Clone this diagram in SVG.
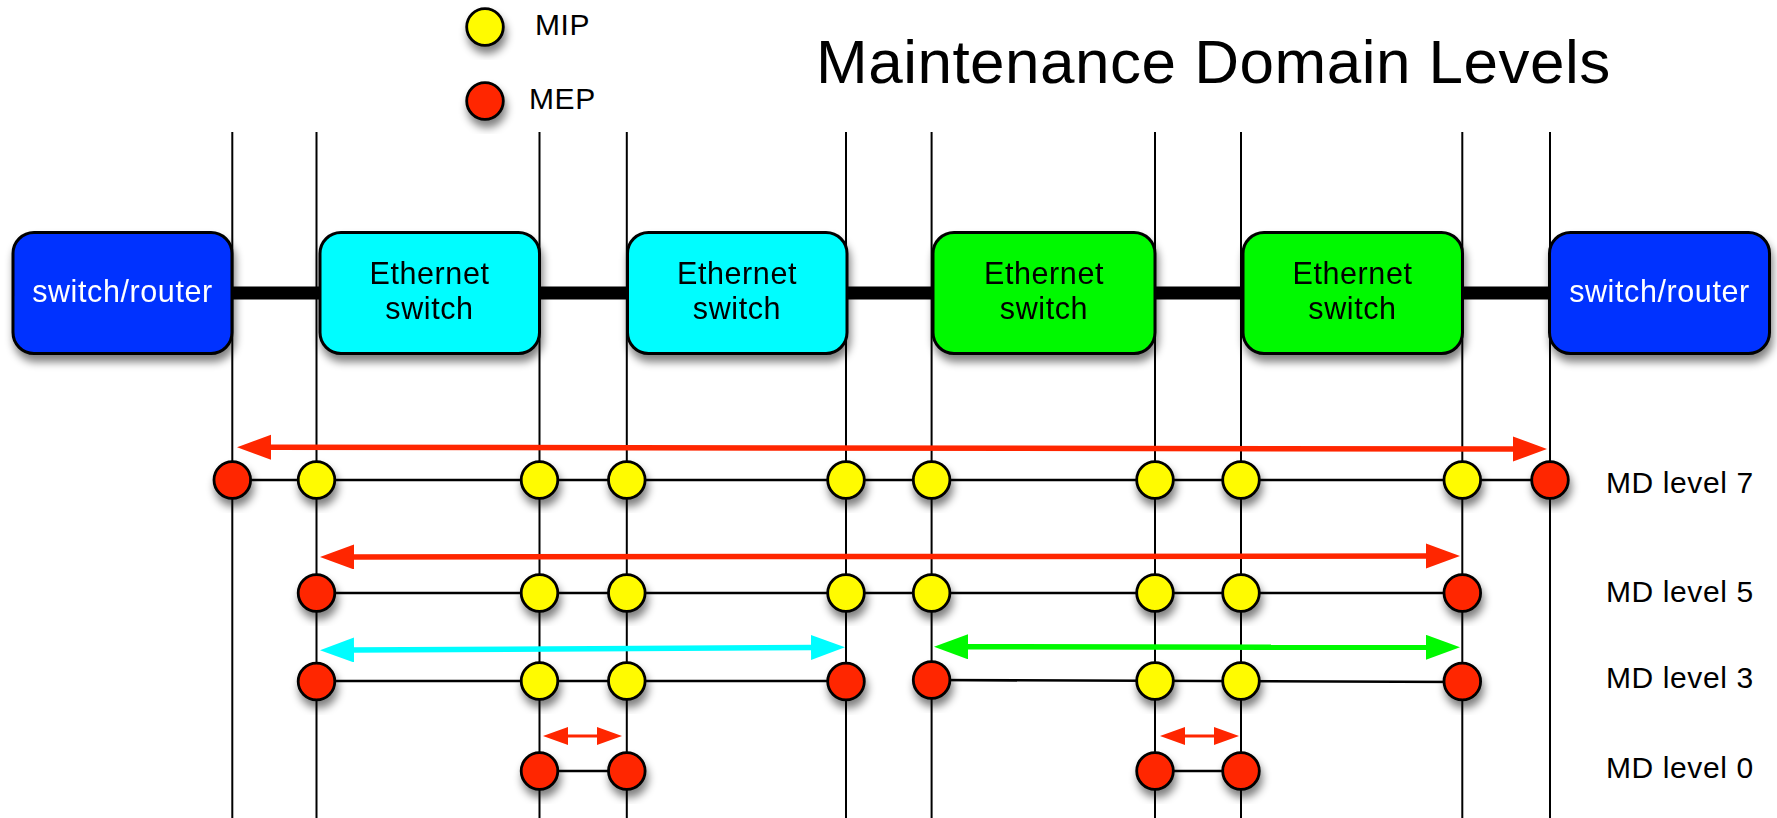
<svg xmlns="http://www.w3.org/2000/svg" width="1777" height="818" viewBox="0 0 1777 818">
  <style>
    text { font-family: "Liberation Sans", Arial, Helvetica, sans-serif; letter-spacing: 0.6px; }
    .title { font-size: 62px; fill: #000; letter-spacing: 0.5px; }
    .legend { font-size: 30px; fill: #000; }
    .lvl { font-size: 30px; fill: #000; }
    .lbl { font-size: 30.5px; fill: #000; text-anchor: middle; }
    .lbl-w { font-size: 30.5px; fill: #fff; text-anchor: middle; }
    .box { stroke: #000; stroke-width: 3; }
    .router { fill: #0433FF; }
    .cyan { fill: #00FDFF; }
    .green { fill: #00F900; }
    .mip { fill: #FFFB00; stroke: #000; stroke-width: 2.8; }
    .mep { fill: #FF2600; stroke: #000; stroke-width: 2.8; }
    .vline { stroke: #000; stroke-width: 2; fill: none; }
    .hline { stroke: #000; stroke-width: 2.6; fill: none; }
    .link { stroke: #000; stroke-width: 13; fill: none; }
    .arr-red { stroke: #FF2600; stroke-width: 5.5; fill: none; }
    .arr-cyan { stroke: #00FDFF; stroke-width: 5.5; fill: none; }
    .arr-green { stroke: #00F900; stroke-width: 5.5; fill: none; }
    .arr-small { stroke: #FF2600; stroke-width: 3; fill: none; }
  </style>
  <defs>
    <filter id="shadow" x="-30%" y="-30%" width="170%" height="170%">
      <feGaussianBlur in="SourceAlpha" stdDeviation="4"/>
      <feOffset dx="2" dy="7" result="blur"/>
      <feComponentTransfer><feFuncA type="linear" slope="0.5"/></feComponentTransfer>
      <feMerge><feMergeNode/><feMergeNode in="SourceGraphic"/></feMerge>
    </filter>
    <marker id="headRed" markerUnits="userSpaceOnUse" markerWidth="36" markerHeight="26" refX="2" refY="12.5" orient="auto-start-reverse">
      <path d="M0,0 L34,12.5 L0,25 Z" fill="#FF2600"/>
    </marker>
    <marker id="headCyan" markerUnits="userSpaceOnUse" markerWidth="36" markerHeight="26" refX="2" refY="12.5" orient="auto-start-reverse">
      <path d="M0,0 L34,12.5 L0,25 Z" fill="#00FDFF"/>
    </marker>
    <marker id="headGreen" markerUnits="userSpaceOnUse" markerWidth="36" markerHeight="26" refX="2" refY="12.5" orient="auto-start-reverse">
      <path d="M0,0 L34,12.5 L0,25 Z" fill="#00F900"/>
    </marker>
    <marker id="headSmall" markerUnits="userSpaceOnUse" markerWidth="26" markerHeight="19" refX="2" refY="9" orient="auto-start-reverse">
      <path d="M0,0 L25,9 L0,18 Z" fill="#FF2600"/>
    </marker>
  </defs>

  <rect width="1777" height="818" fill="#fff"/>

  <!-- title -->
  <text class="title" x="816" y="83">Maintenance Domain Levels</text>

  <!-- legend -->
  <g id="legend">
    <circle class="mip" cx="485" cy="27" r="18.3" filter="url(#shadow)"/>
    <text class="legend" x="535" y="35">MIP</text>
    <circle class="mep" cx="485" cy="101" r="18.3" filter="url(#shadow)"/>
    <text class="legend" x="529" y="109">MEP</text>
  </g>

  <!-- connectors -->
  <g id="connectors">
    <!-- vertical port lines -->
    <g id="port-lines">
      <line class="vline" x1="232.3" y1="132" x2="232.3" y2="818"/>
      <line class="vline" x1="316.5" y1="132" x2="316.5" y2="818"/>
      <line class="vline" x1="539.5" y1="132" x2="539.5" y2="818"/>
      <line class="vline" x1="626.8" y1="132" x2="626.8" y2="818"/>
      <line class="vline" x1="846" y1="132" x2="846" y2="818"/>
      <line class="vline" x1="931.6" y1="132" x2="931.6" y2="818"/>
      <line class="vline" x1="1155" y1="132" x2="1155" y2="818"/>
      <line class="vline" x1="1241" y1="132" x2="1241" y2="818"/>
      <line class="vline" x1="1462.3" y1="132" x2="1462.3" y2="818"/>
      <line class="vline" x1="1550" y1="132" x2="1550" y2="818"/>
    </g>
    <!-- physical links -->
    <line class="link" x1="230" y1="293" x2="322" y2="293"/>
    <line class="link" x1="538" y1="293" x2="629" y2="293"/>
    <line class="link" x1="845" y1="293" x2="935" y2="293"/>
    <line class="link" x1="1153" y1="293" x2="1245" y2="293"/>
    <line class="link" x1="1460" y1="293" x2="1551" y2="293"/>

    <!-- level paths -->
    <line class="hline" x1="232.3" y1="480" x2="1550" y2="480"/>
    <line class="hline" x1="316.5" y1="593" x2="1462.3" y2="593"/>
    <line class="hline" x1="316.5" y1="681" x2="846" y2="681"/>
    <line class="hline" x1="931.6" y1="680" x2="1462.3" y2="682"/>
    <line class="hline" x1="539.5" y1="771" x2="626.8" y2="771"/>
    <line class="hline" x1="1155" y1="771" x2="1241" y2="771"/>

    <!-- domain span arrows -->
    <line class="arr-red" x1="269" y1="447.2" x2="1515" y2="449" marker-start="url(#headRed)" marker-end="url(#headRed)"/>
    <line class="arr-red" x1="352" y1="557" x2="1428" y2="556" marker-start="url(#headRed)" marker-end="url(#headRed)"/>
    <line class="arr-cyan" x1="352" y1="650" x2="813" y2="647.5" marker-start="url(#headCyan)" marker-end="url(#headCyan)"/>
    <line class="arr-green" x1="966" y1="646.8" x2="1428" y2="647.3" marker-start="url(#headGreen)" marker-end="url(#headGreen)"/>
    <line class="arr-small" x1="566" y1="736" x2="599" y2="736" marker-start="url(#headSmall)" marker-end="url(#headSmall)"/>
    <line class="arr-small" x1="1183" y1="736" x2="1216" y2="736" marker-start="url(#headSmall)" marker-end="url(#headSmall)"/>
  </g>

  <!-- network elements -->
  <g id="router-left" filter="url(#shadow)">
    <rect class="box router" x="13" y="232.5" width="219" height="121" rx="21"/>
    <text class="lbl-w" x="122.5" y="302">switch/router</text>
  </g>
  <g id="switch-1" filter="url(#shadow)">
    <rect class="box cyan" x="320" y="232.5" width="219.5" height="121" rx="21"/>
    <text class="lbl" x="429.5" y="284">Ethernet</text>
    <text class="lbl" x="429.5" y="319">switch</text>
  </g>
  <g id="switch-2" filter="url(#shadow)">
    <rect class="box cyan" x="627.5" y="232.5" width="219.5" height="121" rx="21"/>
    <text class="lbl" x="737" y="284">Ethernet</text>
    <text class="lbl" x="737" y="319">switch</text>
  </g>
  <g id="switch-3" filter="url(#shadow)">
    <rect class="box green" x="933" y="232.5" width="222" height="121" rx="21"/>
    <text class="lbl" x="1044" y="284">Ethernet</text>
    <text class="lbl" x="1044" y="319">switch</text>
  </g>
  <g id="switch-4" filter="url(#shadow)">
    <rect class="box green" x="1243" y="232.5" width="219.5" height="121" rx="21"/>
    <text class="lbl" x="1352.5" y="284">Ethernet</text>
    <text class="lbl" x="1352.5" y="319">switch</text>
  </g>
  <g id="router-right" filter="url(#shadow)">
    <rect class="box router" x="1549.5" y="232.5" width="220" height="121" rx="21"/>
    <text class="lbl-w" x="1659.5" y="302">switch/router</text>
  </g>

  <!-- MD level 7 points -->
  <g id="level-7">
    <circle class="mep" cx="232.3" cy="480" r="18.3" filter="url(#shadow)"/>
    <circle class="mip" cx="316.5" cy="480" r="18.3" filter="url(#shadow)"/>
    <circle class="mip" cx="539.5" cy="480" r="18.3" filter="url(#shadow)"/>
    <circle class="mip" cx="626.8" cy="480" r="18.3" filter="url(#shadow)"/>
    <circle class="mip" cx="846" cy="480" r="18.3" filter="url(#shadow)"/>
    <circle class="mip" cx="931.6" cy="480" r="18.3" filter="url(#shadow)"/>
    <circle class="mip" cx="1155" cy="480" r="18.3" filter="url(#shadow)"/>
    <circle class="mip" cx="1241" cy="480" r="18.3" filter="url(#shadow)"/>
    <circle class="mip" cx="1462.3" cy="480" r="18.3" filter="url(#shadow)"/>
    <circle class="mep" cx="1550" cy="480" r="18.3" filter="url(#shadow)"/>
    <text class="lvl" x="1606" y="493">MD level 7</text>
  </g>

  <!-- MD level 5 points -->
  <g id="level-5">
    <circle class="mep" cx="316.5" cy="593" r="18.3" filter="url(#shadow)"/>
    <circle class="mip" cx="539.5" cy="593" r="18.3" filter="url(#shadow)"/>
    <circle class="mip" cx="626.8" cy="593" r="18.3" filter="url(#shadow)"/>
    <circle class="mip" cx="846" cy="593" r="18.3" filter="url(#shadow)"/>
    <circle class="mip" cx="931.6" cy="593" r="18.3" filter="url(#shadow)"/>
    <circle class="mip" cx="1155" cy="593" r="18.3" filter="url(#shadow)"/>
    <circle class="mip" cx="1241" cy="593" r="18.3" filter="url(#shadow)"/>
    <circle class="mep" cx="1462.3" cy="593" r="18.3" filter="url(#shadow)"/>
    <text class="lvl" x="1606" y="602">MD level 5</text>
  </g>

  <!-- MD level 3 points -->
  <g id="level-3">
    <circle class="mep" cx="316.5" cy="681.5" r="18.3" filter="url(#shadow)"/>
    <circle class="mip" cx="539.5" cy="681" r="18.3" filter="url(#shadow)"/>
    <circle class="mip" cx="626.8" cy="681" r="18.3" filter="url(#shadow)"/>
    <circle class="mep" cx="846" cy="681.5" r="18.3" filter="url(#shadow)"/>
    <circle class="mep" cx="931.6" cy="680" r="18.3" filter="url(#shadow)"/>
    <circle class="mip" cx="1155" cy="681" r="18.3" filter="url(#shadow)"/>
    <circle class="mip" cx="1241" cy="681" r="18.3" filter="url(#shadow)"/>
    <circle class="mep" cx="1462.3" cy="681.5" r="18.3" filter="url(#shadow)"/>
    <text class="lvl" x="1606" y="688">MD level 3</text>
  </g>

  <!-- MD level 0 points -->
  <g id="level-0">
    <circle class="mep" cx="539.5" cy="771" r="18.3" filter="url(#shadow)"/>
    <circle class="mep" cx="626.8" cy="771" r="18.3" filter="url(#shadow)"/>
    <circle class="mep" cx="1155" cy="771" r="18.3" filter="url(#shadow)"/>
    <circle class="mep" cx="1241" cy="771" r="18.3" filter="url(#shadow)"/>
    <text class="lvl" x="1606" y="778">MD level 0</text>
  </g>
</svg>
